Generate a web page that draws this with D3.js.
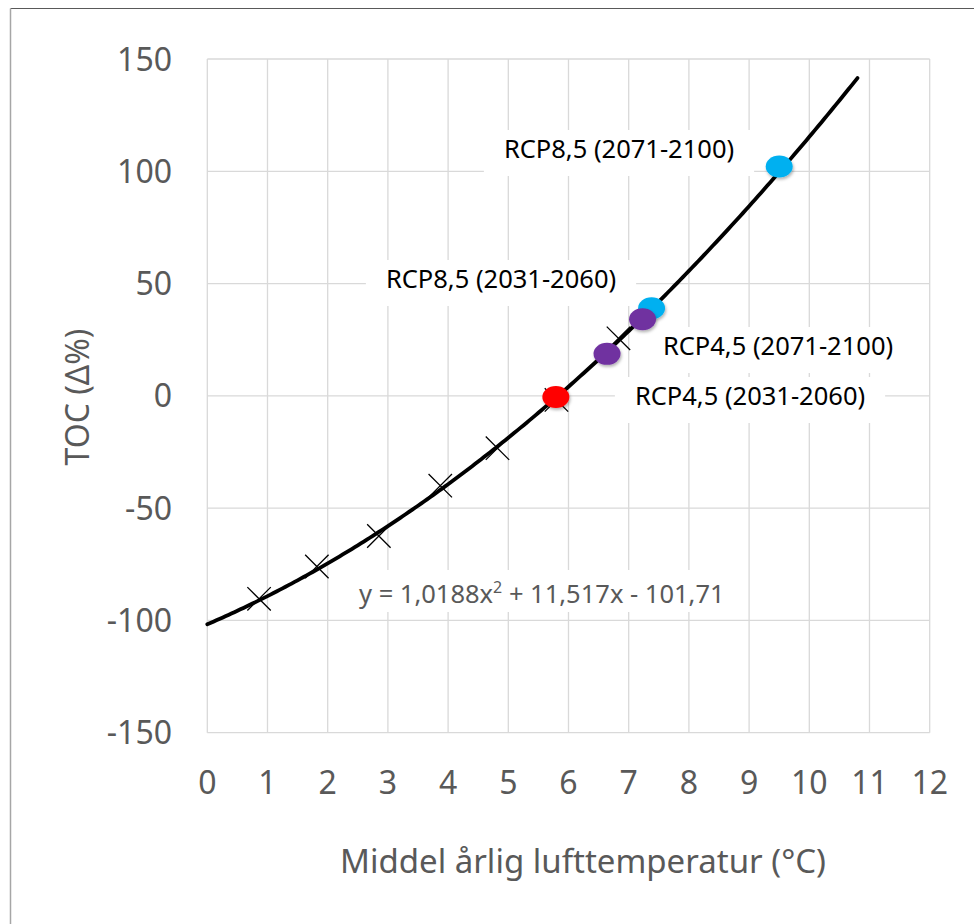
<!DOCTYPE html>
<html>
<head>
<meta charset="utf-8">
<script src="https://cdn.jsdelivr.net/npm/d3@7"></script>
<style>
  body { margin: 0; background: #fff; }
  svg { display: block; font-family: "Noto Sans", "Open Sans", sans-serif; }
  .grid line { stroke: #d9d9d9; stroke-width: 1.3; }
  .tick-label { fill: #595959; font-size: 32px; }
</style>
</head>
<body>
<svg id="chart" width="974" height="924"></svg>
<script>
// observed points (x marks)
const tempX = [0.86, 1.82, 2.85, 3.87, 4.82, 5.80, 6.83];
const tocY = [-90.4, -76.0, -62.4, -40.0, -23.3, -1.8, 25.6];

// scenario points
const scenarioNames = ["RCP8,5 (2071-2100)", "RCP8,5 (2031-2060)", "RCP4,5 (2071-2100)", "RCP4,5 (2031-2060)", "Referanse"];
const scenarioX = [9.50, 7.38, 7.23, 6.64, 5.79];
const scenarioY = [102.1, 39.0, 34.1, 18.7, -0.5];
const scenarioColor = ["#00b0f0", "#00b0f0", "#7030a0", "#7030a0", "#ff0000"];

// trendline y = a x^2 + b x + c
const trendCoef = [1.0188, 11.517, -101.71];
const trendRange = [0, 10.83];
const trendText = ["y = 1,0188x", "2", " + 11,517x - 101,71"];

const xTicks = d3.range(0, 13, 1);
const yTicks = [-150, -100, -50, 0, 50, 100, 150];

const xTitle = "Middel årlig lufttemperatur (°C)";
const yTitle = "TOC (Δ%)";

const svg = d3.select("#chart");
const x = d3.scaleLinear().domain([0, 12]).range([207.3, 929.7]);
const y = d3.scaleLinear().domain([-150, 150]).range([732.7, 59]);

// outer frame
svg.append("line").attr("x1", 10.5).attr("x2", 974).attr("y1", 8.5).attr("y2", 8.5)
    .attr("stroke", "#595959").attr("stroke-width", 1);
svg.append("line").attr("x1", 10.5).attr("x2", 10.5).attr("y1", 8.5).attr("y2", 924)
    .attr("stroke", "#a6a6a6").attr("stroke-width", 1.5);

const defs = svg.append("defs");
const shadow = defs.append("filter").attr("id", "shadow")
    .attr("x", "-50%").attr("y", "-50%").attr("width", "200%").attr("height", "200%");
shadow.append("feDropShadow").attr("dx", 1).attr("dy", 2).attr("stdDeviation", 1.5)
    .attr("flood-color", "#000").attr("flood-opacity", 0.3);

//gridlines
const grid = svg.append("g").attr("class", "grid");
grid.selectAll(".vx").data(xTicks).join("line")
    .attr("x1", d => x(d)).attr("x2", d => x(d))
    .attr("y1", y(150)).attr("y2", y(-150));
grid.selectAll(".hy").data(yTicks).join("line")
    .attr("x1", x(0)).attr("x2", x(12))
    .attr("y1", d => y(d)).attr("y2", d => y(d));

//tick labels
svg.append("g").selectAll("text").data(yTicks).join("text")
    .attr("class", "tick-label")
    .attr("x", 172).attr("y", d => y(d))
    .attr("dy", "0.36em")
    .attr("text-anchor", "end")
    .text(d => d);
svg.append("g").selectAll("text").data(xTicks).join("text")
    .attr("class", "tick-label")
    .attr("x", d => x(d)).attr("y", 782)
    .attr("dy", "0.36em")
    .attr("text-anchor", "middle")
    .text(d => d);

//axis titles
svg.append("text")
    .attr("x", 583).attr("y", 873)
    .attr("text-anchor", "middle")
    .attr("fill", "#595959").attr("font-size", 33)
    .text(xTitle);
svg.append("text")
    .attr("transform", "translate(89,397) rotate(-90)")
    .attr("text-anchor", "middle")
    .attr("fill", "#595959").attr("font-size", 32)
    .text(yTitle);

//data labels with white boxes (text centre x, baseline y)
const labelPos = [[619, 158], [501, 288], [778, 355], [750, 405]];
const labelGroup = svg.append("g");
scenarioNames.slice(0, 4).forEach((name, i) => {
    const g = labelGroup.append("g");
    const rect = g.append("rect").attr("fill", "#fff");
    const t = g.append("text")
        .attr("x", labelPos[i][0]).attr("y", labelPos[i][1])
        .attr("text-anchor", "middle")
        .attr("font-size", 25.5)
        .attr("fill", "#000")
        .text(name);
    const bb = t.node().getBBox();
    rect.attr("x", bb.x - 20).attr("y", labelPos[i][1] - 28)
        .attr("width", bb.width + 40).attr("height", 46);
});

//trendline equation
const eqGroup = svg.append("g");
const eqRect = eqGroup.append("rect").attr("fill", "#fff");
const eq = eqGroup.append("text")
    .attr("x", 359).attr("y", 603)
    .attr("font-size", 25.5)
    .attr("fill", "#595959");
eq.append("tspan").text(trendText[0]);
eq.append("tspan").attr("dy", -10).attr("font-size", 16).text(trendText[1]);
eq.append("tspan").attr("dy", 10).text(trendText[2]);
const ebb = eq.node().getBBox();
eqRect.attr("x", ebb.x - 15).attr("y", 570).attr("width", ebb.width + 30).attr("height", 42);

//trendline
const trendPts = d3.range(trendRange[0], trendRange[1] + 0.001, 0.05).map(t => [t, trendCoef[0] * t * t + trendCoef[1] * t + trendCoef[2]]);
svg.append("path")
    .datum(trendPts)
    .attr("fill", "none")
    .attr("stroke", "#000")
    .attr("stroke-width", 3.8)
    .attr("stroke-linecap", "round")
    .attr("d", d3.line().x(d => x(d[0])).y(d => y(d[1])));

//x markers
const cross = d3.symbol().type(d3.symbolX).size(360);
svg.append("g").selectAll("path").data(tempX).join("path")
    .attr("transform", (d, i) => `translate(${x(d)},${y(tocY[i])})`)
    .attr("d", cross)
    .attr("fill", "none")
    .attr("stroke", "#000")
    .attr("stroke-width", 1.3);

//scenario dots
svg.append("g").selectAll("ellipse").data(scenarioX).join("ellipse")
    .attr("cx", d => x(d))
    .attr("cy", (d, i) => y(scenarioY[i]))
    .attr("rx", 13.5).attr("ry", 11)
    .attr("fill", (d, i) => scenarioColor[i])
    .attr("filter", "url(#shadow)");
</script>
</body>
</html>
